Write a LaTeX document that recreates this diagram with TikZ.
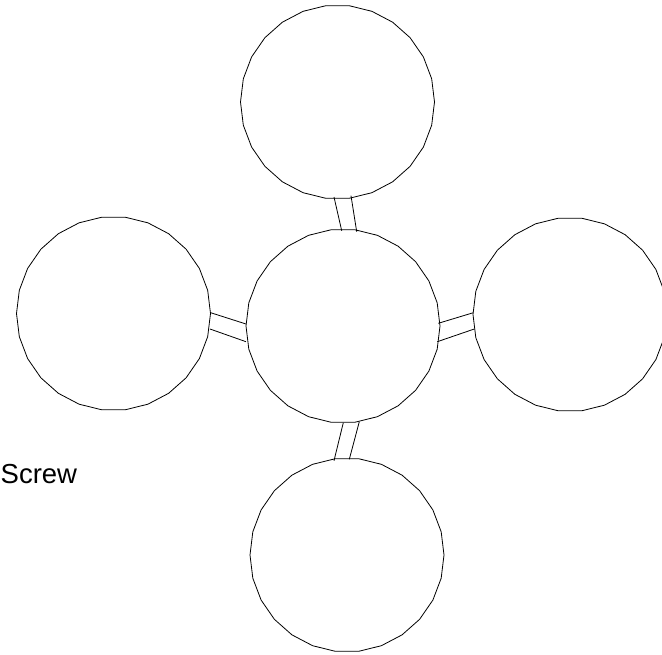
\documentclass[tikz,border=0pt]{standalone}
\usepackage{fontspec}
\setmainfont{Liberation Sans}
\usetikzlibrary{shapes.geometric}
\tikzset{
  disc/.style={regular polygon, regular polygon sides=26, draw=black, line width=0.8pt,
    inner sep=0pt, outer sep=0pt, minimum size=194pt, fill=white},
  link/.style={draw=black, line width=0.8pt},
  lbl/.style={font=\fontsize{27.5}{32}\selectfont, inner sep=0pt, anchor=base west}
}
\begin{document}
\begin{tikzpicture}[x=1pt,y=-1pt]
\useasboundingbox (0,0) rectangle (662,654);
\node[disc] (top) at (337.5,102) {};
\node[disc] (mid) at (343,326) {};
\node[disc] (lft) at (113.5,313.5) {};
\node[disc] (rgt) at (570,314.5) {};
\node[disc] (bot) at (347,555) {};
% connector end points
\coordinate (t1a) at (334,197); \coordinate (t1b) at (341.7,230.7);
\coordinate (t2a) at (351,195.7); \coordinate (t2b) at (356.7,231.7);
\coordinate (l1a) at (210.7,312.7); \coordinate (l1b) at (246,324);
\coordinate (l2a) at (210,329); \coordinate (l2b) at (246,341.7);
\coordinate (r1a) at (438.3,323.3); \coordinate (r1b) at (473.3,312.7);
\coordinate (r2a) at (437.3,341.7); \coordinate (r2b) at (474.3,329);
\coordinate (b1a) at (343.3,422.7); \coordinate (b1b) at (334,460.7);
\coordinate (b2a) at (359.3,421.7); \coordinate (b2b) at (349.3,459.3);
\path[link] (t1a) -- (t1b) (t2a) -- (t2b);
\path[link] (l1a) -- (l1b) (l2a) -- (l2b);
\path[link] (r1a) -- (r1b) (r2a) -- (r2b);
\path[link] (b1a) -- (b1b) (b2a) -- (b2b);
\node[lbl] (screw) at (0.5,483) {Screw};
\end{tikzpicture}
\end{document}
